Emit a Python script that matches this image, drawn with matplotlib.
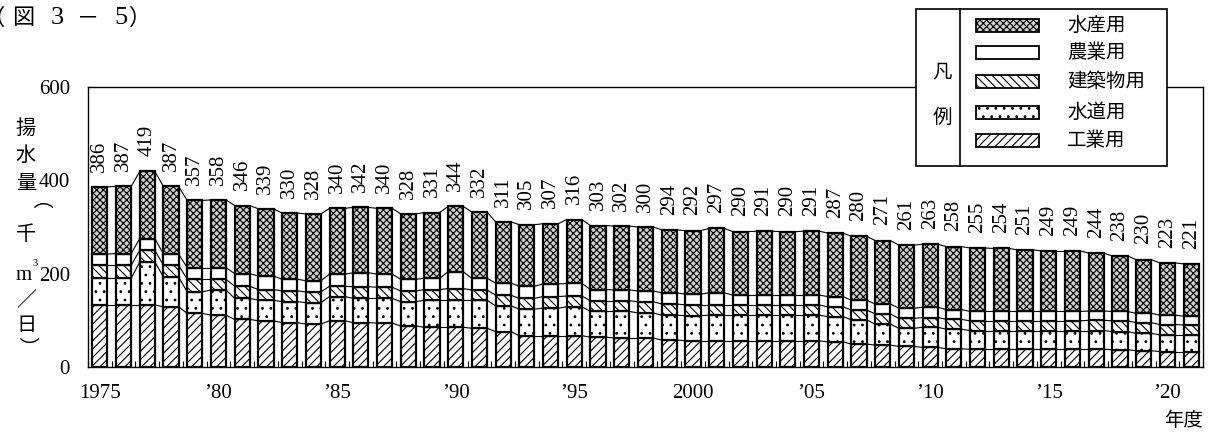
import matplotlib
matplotlib.use("Agg")
import matplotlib.pyplot as plt
from matplotlib.patches import Rectangle
import numpy as np

plt.rcParams['hatch.linewidth'] = 0.8

years = list(range(1975, 2022))
industrial = [133, 133, 133, 129, 115, 111, 102, 99, 95, 92, 99, 95, 94, 88, 85, 85, 83, 76, 67, 67,
              67, 64, 62, 62, 58, 56, 56, 56, 56, 56, 56, 54, 49, 47, 44, 42, 39, 38, 38, 38,
              38, 38, 38, 37, 35, 33, 33]
water = [57, 57, 92, 64, 46, 54, 45, 44, 45, 46, 52, 52, 53, 52, 58, 58, 60, 55, 57, 59,
         62, 55, 57, 54, 53, 54, 55, 55, 55, 55, 55, 54, 52, 45, 39, 43, 42, 40, 40, 40,
         40, 40, 40, 39, 37, 36, 36]
building = [28, 28, 25, 25, 27, 23, 26, 23, 23, 23, 22, 25, 24, 23, 23, 25, 22, 23, 23, 25,
            23, 23, 23, 24, 24, 23, 22, 22, 22, 22, 22, 21, 21, 22, 21, 21, 21, 21, 21, 21,
            21, 21, 22, 23, 23, 22, 21]
agriculture = [24, 25, 25, 24, 25, 25, 27, 29, 25, 24, 26, 30, 28, 25, 24, 36, 25, 26, 26, 27,
               27, 24, 23, 23, 24, 23, 26, 21, 21, 21, 21, 22, 21, 21, 22, 22, 21, 20, 20, 20,
               20, 20, 20, 20, 20, 20, 19]
fisheries = [144, 144, 144, 145, 144, 145, 146, 144, 142, 143, 141, 140, 141, 140, 141, 140, 142, 131, 132, 129,
             137, 137, 137, 137, 135, 136, 138, 136, 137, 136, 137, 136, 137, 136, 135, 135, 135, 136, 135, 132,
             130, 130, 124, 119, 115, 112, 112]

series_names = ['工業用', '水道用', '建築物用', '農業用', '水産用']
series = [industrial, water, building, agriculture, fisheries]
hatches = ['////', '..', '\\\\\\\\', '', 'xxxxx']
faces = ['white', 'white', 'white', 'white', '#cfcfcf']

xtick_pos_years = [1975, 1980, 1985, 1990, 1995, 2000, 2005, 2010, 2015, 2020]
xtick_labels = ['1975', '’80', '’85', '’90', '’95', '2000', '’05', '’10', '’15', '’20']
ytick_vals = [0, 200, 400, 600]

W, H = 1215, 434
fig = plt.figure(figsize=(W / 100, H / 100), dpi=100)
ax = fig.add_axes([88 / W, 1 - 367 / H, (1203 - 88) / W, (367 - 87) / H])

x = np.arange(len(years))
bw = 0.64
bottom = np.zeros(len(years))
levels = []
for vals, h, fc in zip(series, hatches, faces):
    v = np.array(vals, dtype=float)
    ax.bar(x, v, bw, bottom=bottom, facecolor=fc, edgecolor='black', hatch=h, linewidth=1.6, zorder=3)
    bottom = bottom + v
    levels.append(bottom.copy())

# connecting lines between bars
for lev in levels:
    for i in range(len(years) - 1):
        ax.plot([x[i] + bw / 2, x[i + 1] - bw / 2], [lev[i], lev[i + 1]], color='black', lw=0.8, zorder=2)

totals = levels[-1]
for xi, t in zip(x, totals):
    ax.annotate(f'{int(round(t))}', (xi, t), xytext=(0, 11), textcoords='offset points',
                rotation=90, ha='center', va='bottom', fontsize=15, family='Liberation Serif')

ax.set_xlim(-0.5, 46.48)
ax.set_ylim(0, 600)
ax.set_yticks(ytick_vals)
ax.set_yticklabels([str(v) for v in ytick_vals], fontsize=15, family='Liberation Serif')
ax.tick_params(axis='y', length=0, pad=13)
ax.set_xticks([years.index(y) for y in xtick_pos_years])
ax.set_xticklabels(xtick_labels, fontsize=15, family='Liberation Serif')
ax.tick_params(axis='x', which='major', length=0, pad=12)
ax.set_xticks(np.arange(-0.5, len(years), 1.0), minor=True)
ax.tick_params(axis='x', which='minor', direction='in', length=4, width=0.8)
for s in ax.spines.values():
    s.set_linewidth(1.0)

cjk = ['Noto Sans CJK JP', 'DejaVu Sans']

# title, placed character by character
title_chars = [('（', -6, cjk), ('図', 23, cjk), ('3', 57, 'Liberation Serif'), ('－', 88, cjk),
               ('5', 121, 'Liberation Serif'), ('）', 140, cjk)]
for ch, xc, fam in title_chars:
    fs = 19 if fam == 'Liberation Serif' else 16
    fig.text(xc / W, 1 - 18 / H, ch, fontsize=fs, family=fam, ha='center', va='center')

# vertical y label
ylab = [('揚', 128, 0), ('水', 155, 0), ('量', 183, 0), ('（', 212, -90), ('千', 234, 0),
        ('／', 300, 0), ('日', 326, 0), ('）', 346, -90)]
for ch, yy, rot in ylab:
    fig.text(26 / W, 1 - yy / H, ch, fontsize=14.5, family=cjk, ha='center', va='center', rotation=rot)
fig.text(32 / W, 1 - 275 / H, 'm', fontsize=15, family='Liberation Serif', ha='right', va='center')
fig.text(32.5 / W, 1 - 263 / H, '3', fontsize=7.5, family='Liberation Serif', ha='left', va='center')

# 年度
fig.text(1184 / W, 1 - 420 / H, '年度', fontsize=14, family=cjk, ha='center', va='center')

# legend box
lax = fig.add_axes([0, 0, 1, 1], facecolor='none')
lax.set_xlim(0, W)
lax.set_ylim(H, 0)
lax.axis('off')
lax.add_patch(Rectangle((916, 9), 1167 - 916, 166 - 9, facecolor='white', edgecolor='black', lw=1.2, zorder=5))
lax.plot([960, 960], [9, 166], color='black', lw=1.2, zorder=6)
lax.text(942, 72, '凡', fontsize=14, family=cjk, ha='center', va='center', zorder=7)
lax.text(942, 117, '例', fontsize=14, family=cjk, ha='center', va='center', zorder=7)
rows = [(4, 25.5), (3, 52.5), (2, 81.5), (1, 112), (0, 140)]
for idx, yc in rows:
    lax.add_patch(Rectangle((976, yc - 6.5), 1039 - 976, 13, facecolor=faces[idx], edgecolor='black',
                            hatch=hatches[idx], lw=1.3, zorder=6))
    lax.text(1067, yc, series_names[idx], fontsize=14, family=cjk, ha='left', va='center', zorder=7)

fig.savefig('out.png', dpi=100)
